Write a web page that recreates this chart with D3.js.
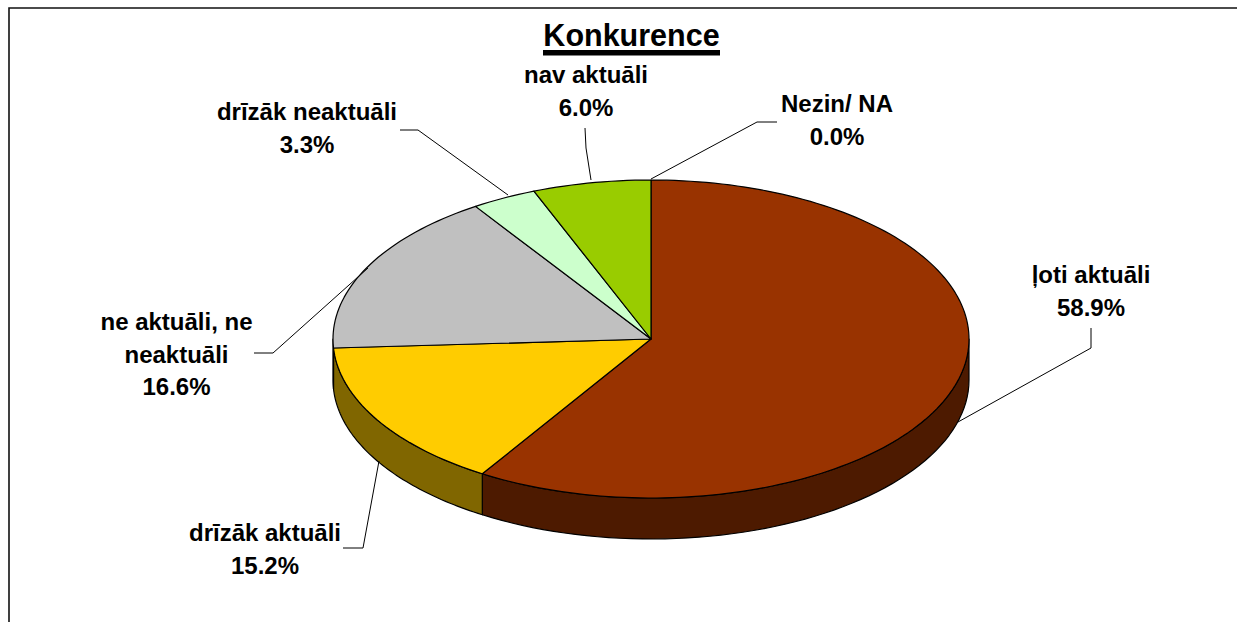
<!DOCTYPE html>
<html><head><meta charset="utf-8">
<script src="https://cdn.jsdelivr.net/npm/d3@7"></script>
<style>html,body{margin:0;padding:0;background:#fff}svg{display:block}
text{font-family:"Liberation Sans",Arial,sans-serif;font-weight:700;fill:#000;text-anchor:middle}</style>
</head><body><svg id="c" width="1237" height="622"></svg>
<script>
const categories = ["ļoti aktuāli","drīzāk aktuāli","ne aktuāli, ne neaktuāli","drīzāk neaktuāli","nav aktuāli","Nezin/ NA"];
const values = [58.9,15.2,16.6,3.3,6.0,0.0];
const topColors = ["#993300","#ffcc00","#c0c0c0","#ccffcc","#99cc00","#ffffff"];
const sideColors = ["#4d1a00","#806600","#606060","#668066","#4d6600","#808080"];
const labelLines = [["ļoti aktuāli"],["drīzāk aktuāli"],["ne aktuāli, ne","neaktuāli"],["drīzāk neaktuāli"],["nav aktuāli"],["Nezin/ NA"]];
const labelAnchors = [[1091,283],[265,541],[176.5,330],[307,120],[586,83],[837,112]];
const leaders = [
 [[958,422],[1091,348],[1091,328]],
 [[379,461],[363,548],[343,548]],
 [[368,268],[273,353],[254,353]],
 [[508,195],[418,130],[400,130]],
 [[591,180],[586,148],[585,128]],
 [[651,179],[757,122],[777,122]]
];
const title = "Konkurence";

const svg = d3.select("#c");
const cx=651, cy=339, rx=318, ry=159, depth=41;
const lineGap=32.5;

// frame: open on the right and at the bottom
svg.append("path").attr("d","M9,622V8H1237").attr("fill","none").attr("stroke","#111").attr("stroke-width",1.6);

const pie = d3.pie().sort(null).value(d=>d)(values);
const ex = a => cx + rx*Math.sin(a), ey = a => cy - ry*Math.cos(a);

// side walls: front half of the ellipse only
const wall = d3.line();
pie.forEach((s,i)=>{
  const a0=Math.max(s.startAngle,Math.PI/2), a1=Math.min(s.endAngle,3*Math.PI/2);
  if(a1<=a0) return;
  const as=d3.range(0,61).map(k=>a0+(a1-a0)*k/60);
  const pts=as.map(a=>[ex(a),ey(a)]).concat(as.slice().reverse().map(a=>[ex(a),ey(a)+depth]));
  svg.append("path").attr("d",wall(pts)+"Z").attr("fill",sideColors[i]).attr("stroke","#000").attr("stroke-width",1.2).attr("stroke-linejoin","round");
});

// top faces
const face = d3.line();
pie.forEach((s,i)=>{
  if(s.endAngle-s.startAngle<=0) return;
  const n=Math.max(8,Math.round((s.endAngle-s.startAngle)*40));
  const as=d3.range(0,n+1).map(k=>s.startAngle+(s.endAngle-s.startAngle)*k/n);
  const pts=[[cx,cy]].concat(as.map(a=>[ex(a),ey(a)]));
  svg.append("path").attr("d",face(pts)+"Z").attr("fill",topColors[i]).attr("stroke","#000").attr("stroke-width",1.2).attr("stroke-linejoin","round");
});

// leaders
const ln=d3.line();
leaders.forEach(l=>svg.append("path").attr("d",ln(l)).attr("fill","none").attr("stroke","#000").attr("stroke-width",1));

// labels
const fmt=d3.format(".1f");
categories.forEach((c,i)=>{
  const [x,y]=labelAnchors[i];
  const lines=labelLines[i].concat(fmt(values[i])+"%");
  lines.forEach((t,j)=>svg.append("text").attr("x",x).attr("y",y+j*lineGap).attr("font-size",24).text(t));
});

// title
svg.append("text").attr("x",631.5).attr("y",46).attr("font-size",30.5).text(title);
svg.append("rect").attr("x",543).attr("y",50).attr("width",177).attr("height",5.5).attr("fill","#000");
</script></body></html>
